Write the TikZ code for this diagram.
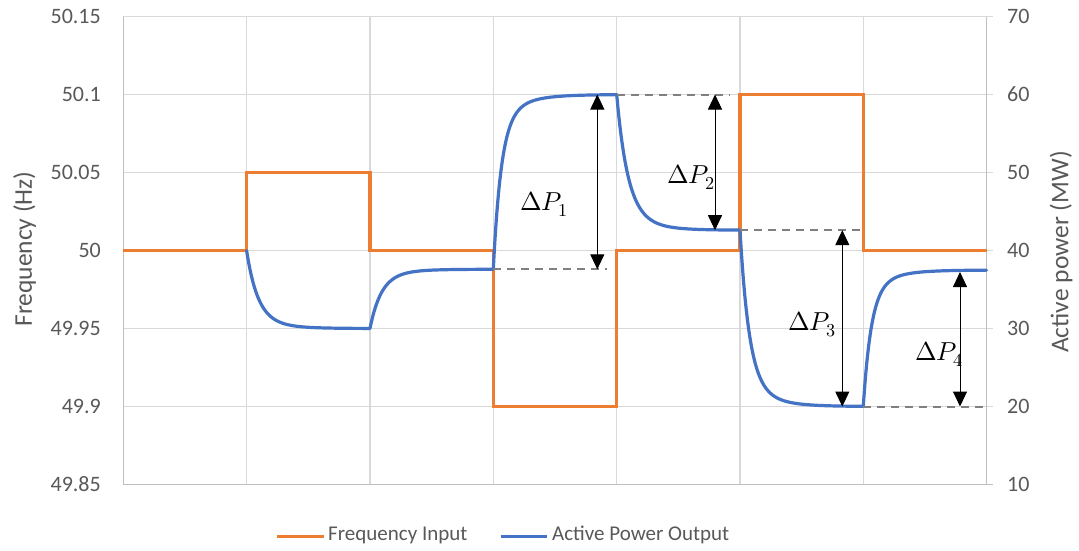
\documentclass[tikz,border=0pt]{standalone}
\usepackage{fontspec}
\usepackage{unicode-math}
\setmainfont{Carlito}
\setmathfont{Latin Modern Math}
\usetikzlibrary{arrows.meta}
\definecolor{txtgray}{HTML}{595959}
\definecolor{gridgray}{HTML}{D9D9D9}
\definecolor{axisgray}{HTML}{BFBFBF}
\definecolor{dashgray}{HTML}{808080}
\definecolor{freqorange}{HTML}{ED7D31}
\definecolor{powblue}{HTML}{4472C4}
\begin{document}
\begin{tikzpicture}[x=1pt,y=-1pt,
  declare function={resp(\t,\a,\b,\c)=\b+(\a-\b)*(0.85*exp(-\t/\c)+0.15*exp(-\t/0.2)); yp(\p)=484.5-7.8*(\p-10);},
  grid/.style={gridgray,line width=1.3pt},
  axisline/.style={axisgray,line width=1.3pt},
  ticklbl/.style={txtgray,font=\fontsize{22}{26}\selectfont,inner sep=0pt},
  leglbl/.style={txtgray,font=\fontsize{21}{25}\selectfont,inner sep=0pt,anchor=west},
  title/.style={txtgray,font=\fontsize{25.5}{30}\selectfont,inner sep=0pt,rotate=90},
  guide/.style={dashgray,line width=2pt,dash pattern=on 8pt off 6pt},
  dim/.style={black,line width=1pt,{Triangle[width=14pt,length=15pt]}-{Triangle[width=14pt,length=15pt]}},
  dlabel/.style={black,font=\fontsize{26}{30}\selectfont,inner sep=0pt,anchor=base west},
  freqline/.style={freqorange,line width=3.2pt},
  powline/.style={powblue,line width=3.2pt,line join=round,line cap=round}]
\useasboundingbox (0,0) rectangle (1079,550);
\fill[white] (0,0) rectangle (1079,550);
% gridlines
\foreach \yy in {16.5,94.5,172.5,250.5,328.5,406.5}
  \draw[grid] (123.3,\yy) -- (993,\yy);
\foreach \xx in {246.6,370,493.3,616.7,740,863.3}
  \draw[grid] (\xx,16.5) -- (\xx,484.5);
% axes
\draw[axisline] (123.3,16.5) -- (123.3,484.5) -- (986.7,484.5) -- (986.7,16.5);
\draw[axisline] (986.7,484.5) -- (993,484.5);
% tick labels
\foreach \yy/\lab [count=\i] in {16.5/50.15,94.5/50.1,172.5/50.05,250.5/50,328.5/49.95,406.5/49.9,484.5/49.85}
  \node[ticklbl,anchor=east] (l\i) at (101,\yy) {\lab};
\foreach \yy/\lab [count=\i] in {16.5/70,94.5/60,172.5/50,250.5/40,328.5/30,406.5/20,484.5/10}
  \node[ticklbl,anchor=west] (r\i) at (1007,\yy) {\lab};
\node[title] (ttlL) at (24.5,249) {Frequency (Hz)};
\node[title] (ttlR) at (1061,252) {Active power (MW)};
% frequency input
\draw[freqline] (123.3,250.5) -- (246.6,250.5) -- (246.6,172.5) -- (370,172.5) -- (370,250.5)
  -- (493.3,250.5) -- (493.3,406.5) -- (616.7,406.5) -- (616.7,250.5) -- (740,250.5)
  -- (740,94.5) -- (863.3,94.5) -- (863.3,250.5) -- (986.7,250.5);
% active power output
\draw[powline]
  plot[domain=0:1,samples=160] ({246.6+123.34*\x},{yp(resp(\x,40,30,0.09))})
  -- plot[domain=0:1,samples=160] ({370+123.34*\x},{yp(resp(\x,30.01,37.6,0.09))})
  -- plot[domain=0:1,samples=200] ({493.3+123.34*\x},{yp(resp(\x,37.6,60,0.065))})
  -- plot[domain=0:1,samples=160] ({616.7+123.34*\x},{yp(resp(\x,59.98,42.6,0.09))})
  -- plot[domain=0:1,samples=200] ({740+123.34*\x},{yp(resp(\x,42.62,20,0.075))})
  -- plot[domain=0:1,samples=200] ({863.3+123.34*\x},{yp(resp(\x,20.02,37.5,0.065))});
% guides
\coordinate (g1a) at (493.3,269.3); \coordinate (g1b) at (606.7,269.3);
\coordinate (g2a) at (616.7,94.5);  \coordinate (g2b) at (730,94.5);
\coordinate (g3a) at (740,230.2);   \coordinate (g3b) at (860,230.2);
\coordinate (g4a) at (863.3,406.5); \coordinate (g4b) at (986.7,406.5);
\draw[guide] (g1a) -- (g1b);
\draw[guide] (g2a) -- (g2b);
\draw[guide] (g3a) -- (g3b);
\draw[guide] (g4a) -- (g4b);
% dimension arrows
\coordinate (a1t) at (597.3,94.5);  \coordinate (a1b) at (597.3,269.3);
\coordinate (a2t) at (715,94.5);    \coordinate (a2b) at (715,230.2);
\coordinate (a3t) at (842.3,230.2); \coordinate (a3b) at (842.3,406.5);
\coordinate (a4t) at (960,272);     \coordinate (a4b) at (960,406.5);
\draw[dim] (a1t) -- (a1b);
\draw[dim] (a2t) -- (a2b);
\draw[dim] (a3t) -- (a3b);
\draw[dim] (a4t) -- (a4b);
\node[dlabel] (dp1) at (520,210) {$\Delta P_1$};
\node[dlabel] (dp2) at (667,183) {$\Delta P_2$};
\node[dlabel] (dp3) at (788,330) {$\Delta P_3$};
\node[dlabel] (dp4) at (915,360) {$\Delta P_4$};
% legend
\coordinate (lo1) at (276.7,536.7); \coordinate (lo2) at (324,536.7);
\coordinate (lb1) at (500.7,536.7); \coordinate (lb2) at (547,536.7);
\draw[freqorange,line width=3.2pt] (lo1) -- (lo2);
\draw[powblue,line width=3.2pt] (lb1) -- (lb2);
\node[leglbl] (legF) at (328,535) {Frequency Input};
\node[leglbl] (legP) at (552,535) {Active Power Output};
\end{tikzpicture}
\end{document}
